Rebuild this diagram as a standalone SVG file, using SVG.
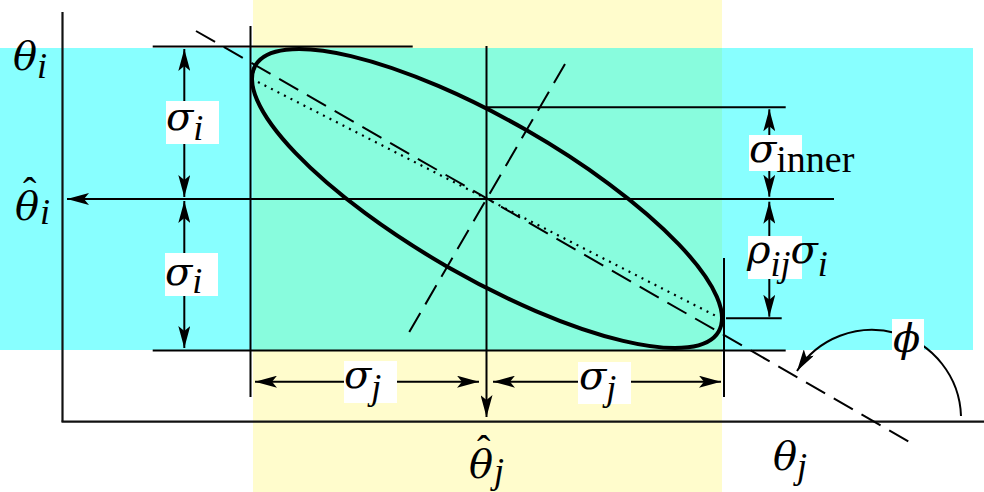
<svg xmlns="http://www.w3.org/2000/svg" width="984" height="492" viewBox="0 0 984 492">
<style>
.ln{stroke:#000;stroke-width:2;fill:none}
.ax{stroke:#111;stroke-width:2.2;fill:none}
.dash{stroke:#000;stroke-width:2;fill:none;stroke-dasharray:22 10}
.dot{stroke:#000;stroke-width:2.2;fill:none;stroke-dasharray:2 5.3}
.ell{stroke:#000;stroke-width:4;fill:none}
.box{fill:#fff}
.g{font-family:"DejaVu Serif","Liberation Serif",serif;font-style:italic;font-size:40px;fill:#000}
.sub{font-family:"Liberation Serif","DejaVu Serif",serif;font-style:italic;font-size:36px}
.rm{font-family:"Liberation Serif","DejaVu Serif",serif;font-style:normal;font-size:38px}
.hat{font-family:"Liberation Serif","DejaVu Serif",serif;font-style:normal;font-size:40px}
</style>
<defs>
<marker id="ah" viewBox="0 0 22 12" refX="22" refY="6" markerWidth="22" markerHeight="12" markerUnits="userSpaceOnUse" orient="auto-start-reverse">
<path d="M22,6 L0,0 L5,6 L0,12 Z" fill="#000"/>
</marker>
</defs>
<g id="bands">
<rect x="0" y="48" width="973" height="302" fill="#88FFFF"/>
<rect x="253" y="0" width="469" height="492" fill="#FFFCCC"/>
<rect x="253" y="48" width="469" height="302" fill="#88FCDD"/>
</g>
<g id="axes">
<line class="ax" x1="62.5" y1="12" x2="62.5" y2="421.7"/>
<line class="ax" x1="61.5" y1="421.7" x2="984" y2="421.7"/>
</g>
<g id="guides">
<line class="ln" x1="152.7" y1="46.5" x2="412.7" y2="46.5"/>
<line class="ln" x1="152.7" y1="350.5" x2="785.7" y2="350.5"/>
<line class="ln" x1="486.5" y1="107.3" x2="785.7" y2="107.3"/>
<line class="ln" x1="726" y1="318.3" x2="781.7" y2="318.3"/>
<line class="ln" x1="250.5" y1="26" x2="250.5" y2="397"/>
<line class="ln" x1="724" y1="258" x2="724" y2="397"/>
</g>
<g id="ellipse">
<ellipse class="ell" cx="487" cy="198.5" rx="267.1" ry="78.9" transform="rotate(29.84 487 198.5)"/>
<line class="dash" x1="196" y1="31" x2="913" y2="444"/>
<line class="dash" x1="565" y1="64" x2="409" y2="332.5"/>
<line class="dot" x1="258" y1="82" x2="718" y2="317"/>
</g>
<g id="connectors">
<line class="ln" x1="834" y1="199" x2="67" y2="199" marker-end="url(#ah)"/>
<line class="ln" x1="486.5" y1="46" x2="486.5" y2="417" marker-end="url(#ah)"/>
<line class="ln" x1="184.3" y1="49" x2="184.3" y2="197" marker-start="url(#ah)" marker-end="url(#ah)"/>
<line class="ln" x1="184.3" y1="201" x2="184.3" y2="348" marker-start="url(#ah)" marker-end="url(#ah)"/>
<line class="ln" x1="255" y1="381.7" x2="479" y2="381.7" marker-start="url(#ah)" marker-end="url(#ah)"/>
<line class="ln" x1="493" y1="381.7" x2="721" y2="381.7" marker-start="url(#ah)" marker-end="url(#ah)"/>
<line class="ln" x1="769.3" y1="109.3" x2="769.3" y2="196.7" marker-start="url(#ah)" marker-end="url(#ah)"/>
<line class="ln" x1="769.3" y1="201.7" x2="769.3" y2="316.7" marker-start="url(#ah)" marker-end="url(#ah)"/>
<path class="ln" d="M961,416 A89 89 0 0 0 797,371" marker-end="url(#ah)"/>
</g>
<g id="label-theta-i">
<text class="g" x="13" y="70">θ<tspan class="sub" dy="8">i</tspan></text>
</g>
<g id="label-thetahat-i">
<text class="g" x="15" y="220">θ<tspan class="hat" x="23" y="205">ˆ</tspan><tspan class="sub" x="40" y="224">i</tspan></text>
</g>
<g id="label-sigma-i-upper">
<rect class="box" x="166" y="101" width="53" height="43"/>
<text class="g" x="166" y="130">σ<tspan class="sub" dy="10">i</tspan></text>
</g>
<g id="label-sigma-i-lower">
<rect class="box" x="165" y="253" width="53" height="43"/>
<text class="g" x="165" y="285">σ<tspan class="sub" dy="8">i</tspan></text>
</g>
<g id="label-sigma-inner">
<rect class="box" x="749" y="135" width="53" height="36"/>
<text class="g" x="749" y="161.7">σ<tspan class="rm" dy="10">inner</tspan></text>
</g>
<g id="label-rho-sigma">
<rect class="box" x="748" y="236" width="54" height="43"/>
<text class="g" x="747" y="263">ρ<tspan class="sub" dy="13">ij</tspan><tspan dy="-13">σ</tspan><tspan class="sub" dy="13">i</tspan></text>
</g>
<g id="label-sigma-j-left">
<rect class="box" x="344" y="361" width="53" height="42"/>
<text class="g" x="344" y="388">σ<tspan class="sub" dy="11">j</tspan></text>
</g>
<g id="label-sigma-j-right">
<rect class="box" x="578" y="362" width="53" height="42"/>
<text class="g" x="579" y="389">σ<tspan class="sub" dy="11">j</tspan></text>
</g>
<g id="label-thetahat-j">
<text class="g" x="469" y="478">θ<tspan class="hat" x="477" y="463">ˆ</tspan><tspan class="sub" x="494" y="483">j</tspan></text>
</g>
<g id="label-theta-j">
<text class="g" x="773" y="470">θ<tspan class="sub" dy="8">j</tspan></text>
</g>
<g id="label-phi">
<rect class="box" x="892" y="319" width="32" height="44"/>
<text class="g" x="893" y="352" font-size="44">ϕ</text>
</g>
</svg>
